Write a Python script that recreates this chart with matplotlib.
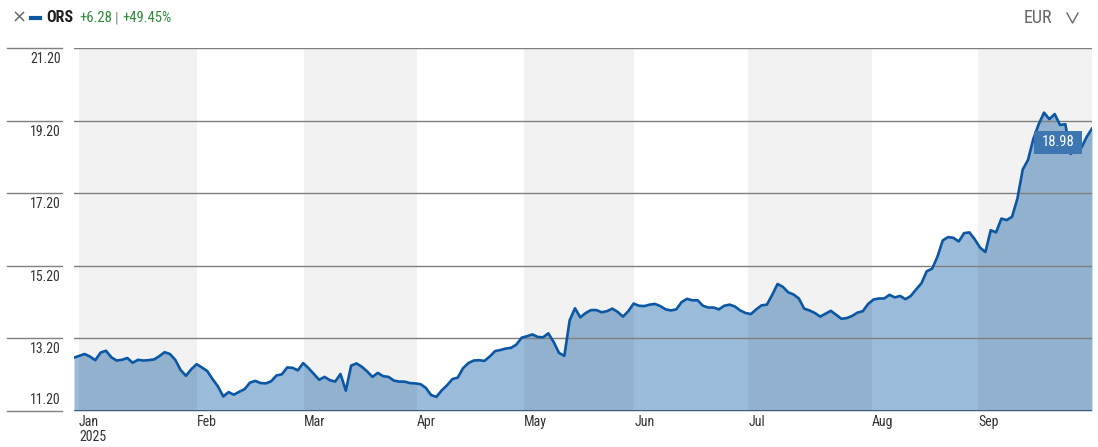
import matplotlib
matplotlib.use("Agg")
import matplotlib.pyplot as plt
import matplotlib.transforms as mtransforms
from matplotlib.lines import Line2D
from matplotlib.patches import Rectangle

plt.rcParams['font.family'] = ['Roboto Condensed', 'Liberation Sans Narrow',
                               'Liberation Sans', 'DejaVu Sans']

# daily closes, 31 Dec 2024 -> end of Sep 2025 (one value per trading day)
prices = [
    12.67, 12.72, 12.77, 12.70, 12.60, 12.81, 12.86, 12.68, 12.59, 12.61,
    12.66, 12.53, 12.61, 12.59, 12.60, 12.62, 12.71, 12.82, 12.77, 12.61,
    12.33, 12.17, 12.35, 12.49, 12.40, 12.30, 12.08, 11.88, 11.60, 11.72,
    11.65, 11.73, 11.80, 11.98, 12.03, 11.97, 11.96, 12.02, 12.18, 12.21,
    12.40, 12.39, 12.32, 12.52, 12.38, 12.22, 12.06, 12.14, 12.05, 12.01,
    12.22, 11.76, 12.45, 12.51, 12.42, 12.29, 12.14, 12.25, 12.16, 12.14,
    12.04, 12.01, 12.01, 11.97, 11.96, 11.94, 11.84, 11.64, 11.59, 11.77,
    11.91, 12.08, 12.12, 12.38, 12.52, 12.59, 12.60, 12.58, 12.70, 12.85,
    12.88, 12.92, 12.94, 13.03, 13.22, 13.26, 13.31, 13.24, 13.23, 13.34,
    13.10, 12.80, 12.72, 13.70, 14.03, 13.78, 13.90, 13.98, 13.98, 13.92,
    13.95, 14.02, 13.93, 13.80, 13.95, 14.16, 14.10, 14.09, 14.13, 14.15,
    14.09, 14.00, 13.97, 14.00, 14.20, 14.29, 14.25, 14.25, 14.10, 14.05,
    14.05, 14.00, 14.10, 14.13, 14.08, 13.97, 13.90, 13.87, 14.00, 14.11,
    14.13, 14.40, 14.70, 14.62, 14.47, 14.41, 14.30, 14.02, 13.97, 13.90,
    13.80, 13.88, 13.96, 13.85, 13.74, 13.76, 13.82, 13.91, 13.95, 14.15,
    14.27, 14.30, 14.30, 14.40, 14.33, 14.37, 14.28, 14.37, 14.55, 14.72,
    15.05, 15.12, 15.45, 15.90, 15.99, 15.97, 15.87, 16.10, 16.12, 15.93,
    15.70, 15.58, 16.18, 16.12, 16.50, 16.46, 16.55, 17.05, 17.85, 18.12,
    18.70, 19.10, 19.42, 19.24, 19.38, 19.08, 19.10, 18.28, 18.40, 18.45,
    18.75, 18.98,
]
months = ['Jan', 'Feb', 'Mar', 'Apr', 'May', 'Jun', 'Jul', 'Aug', 'Sep']
month_pos = [0.94, 23.1, 43.2, 64.4, 84.4, 105.1, 126.5, 149.7, 169.6]
year_label = '2025'
yticks = [11.20, 13.20, 15.20, 17.20, 19.20, 21.20]
ticker = 'ORS'
change_abs = '+6.28'
change_pct = '+49.45%'
currency = 'EUR'
last_price = prices[-1]

W, H = 1098, 447
fig = plt.figure(figsize=(W / 100, H / 100), dpi=100)
ax = fig.add_axes([74 / W, 1 - 411 / H, (1092 - 74) / W, (411 - 48) / H])

x = list(range(len(prices)))
ax.fill_between(x, prices, yticks[0], color='#9abbda', lw=0, zorder=1)
ax.plot(x, prices, color='#0b57a4', lw=1.9, zorder=4)

# alternating month bands
for k in range(0, len(month_pos), 2):
    end = month_pos[k + 1] if k + 1 < len(month_pos) else len(prices) - 1
    ax.axvspan(month_pos[k], end, color='black', alpha=0.052, lw=0, zorder=2)

ax.set_xlim(0, len(prices) - 1)
ax.set_ylim(yticks[0], yticks[-1])
ax.axis('off')

ytrans = mtransforms.blended_transform_factory(ax.transAxes, ax.transData)
for t in yticks:
    ax.axhline(t, color='#7f7f7f', lw=1, zorder=3)
    ax.plot([-0.0658, -0.0118], [t, t], color='#7f7f7f', lw=1,
            transform=ytrans, clip_on=False)
    if t == yticks[0]:
        tr = mtransforms.offset_copy(ytrans, fig=fig, x=-1, y=4, units='dots')
        va = 'bottom'
    else:
        tr = mtransforms.offset_copy(ytrans, fig=fig, x=-1, y=-4, units='dots')
        va = 'top'
    ax.text(-0.0118, t, f'{t:.2f}', transform=tr, ha='right', va=va,
            fontsize=10, color='#333333')

# x axis line
ax.axhline(yticks[0], color='#3d5068', lw=1.3, zorder=5)

xtrans = mtransforms.blended_transform_factory(ax.transData, ax.transAxes)
xtr = mtransforms.offset_copy(xtrans, fig=fig, x=0, y=-4, units='dots')
for name, p in zip(months, month_pos):
    lab = name + '\n' + year_label if name == 'Jan' else name
    ax.text(p, 0, lab, transform=xtr, ha='left', va='top', fontsize=10,
            color='#333333', linespacing=1.1)

# last price tag
fig.canvas.draw()
px, py = ax.transData.transform((len(prices) - 1, last_price))
ax.add_patch(Rectangle((px - 58, py - 25), 48, 23, transform=None,
                       facecolor='#3e76b2', edgecolor='none', zorder=6,
                       clip_on=False))
ax.text(px - 34, py - 13.5, f'{last_price:.2f}', transform=None, ha='center',
        va='center', color='white', fontsize=10.5, zorder=7)

# header
def fx(v):
    return v / W

def fy(v):
    return 1 - v / H

fig.text(fx(12), fy(18), '\u00d7', fontsize=13, color='#666666', va='center',
         family=['DejaVu Sans'])
fig.add_artist(Line2D([fx(31), fx(40)], [fy(18), fy(18)], color='#0b57a4',
                      lw=3, transform=fig.transFigure))

renderer = fig.canvas.get_renderer()
cur = 46
pieces = [(ticker, '#1e1e1e', 'bold', 11.5, 6),
          (change_abs, '#2f8a3c', 'normal', 10.5, 3),
          ('|', '#888888', 'normal', 10.5, 4),
          (change_pct, '#2f8a3c', 'normal', 10.5, 0)]
for s, c, w, fs, gap in pieces:
    t = fig.text(fx(cur), fy(18), s, fontsize=fs, fontweight=w, color=c,
                 va='center')
    cur += t.get_window_extent(renderer).width + gap

fig.text(fx(1052), fy(18), currency, fontsize=13, color='#666666', va='center',
         ha='right')
fig.add_artist(Line2D([fx(1067), fx(1072.5), fx(1078)],
                      [fy(13), fy(23), fy(13)], color='#666666', lw=1,
                      transform=fig.transFigure))

fig.savefig('out.png', dpi=100)
